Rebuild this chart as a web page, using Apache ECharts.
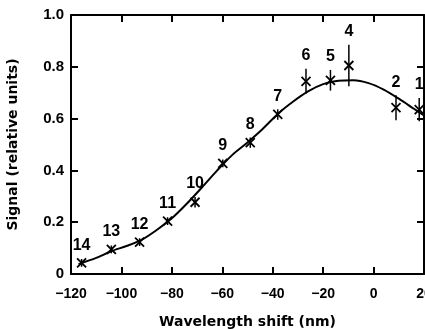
<!DOCTYPE html>
<html>
<head>
<meta charset="utf-8">
<script src="https://cdn.jsdelivr.net/npm/echarts@6/dist/echarts.min.js"></script>
<style>
  html, body { margin: 0; padding: 0; background: #fff; }
  #chart { width: 425px; height: 329px; }
</style>
</head>
<body>
<div id="chart"></div>
<script>
// measured points, numbered as in the figure
var pointLabels = ['14', '13', '12', '11', '10', '9', '8', '7', '6', '5', '4', '2', '1'];
var pointX = [-115.8, -104, -92.8, -81.7, -70.8, -59.8, -48.9, -38, -26.8, -17.1, -9.8, 8.9, 18.1];
var pointY = [0.043, 0.095, 0.123, 0.204, 0.277, 0.427, 0.507, 0.616, 0.744, 0.748, 0.805, 0.642, 0.635];
var pointErr = [0.015, 0.015, 0.015, 0.015, 0.02, 0.015, 0.02, 0.02, 0.048, 0.04, 0.08, 0.048, 0.045];

// fitted curve
var curveX = [-117, -110, -104, -98, -92, -86, -80, -74, -68, -62, -56, -50, -44, -38, -32, -26, -20, -14, -8, -2, 4, 10, 16, 20];
var curveY = [0.038, 0.062, 0.088, 0.108, 0.132, 0.17, 0.215, 0.272, 0.335, 0.40, 0.46, 0.508, 0.56, 0.618, 0.665, 0.705, 0.733, 0.746, 0.748, 0.737, 0.712, 0.677, 0.638, 0.612];

var chart = echarts.init(document.getElementById('chart'), null, { renderer: 'canvas' });

var curve = curveX.map(function (x, i) { return [x, curveY[i]]; });
var points = pointX.map(function (x, i) { return [x, pointY[i], pointErr[i]]; });

var tickFont = { color: '#000', fontWeight: 'bold', fontFamily: 'Liberation Sans' };
var axisLine = { onZero: false, lineStyle: { color: '#000', width: 2 } };
var axisTick = { inside: true, length: 7, lineStyle: { color: '#000', width: 2 } };

function renderPoint(params, api) {
    var i = params.dataIndex;
    var x = api.value(0), y = api.value(1), e = api.value(2);
    var p = api.coord([x, y]);
    var top = api.coord([x, y + e]);
    var bot = api.coord([x, y - e]);
    var s = 4.5;
    var st = { stroke: '#000', lineWidth: 1.8 };
    return {
        type: 'group',
        children: [
            { type: 'line', shape: { x1: p[0] - s, y1: p[1] - s, x2: p[0] + s, y2: p[1] + s }, style: st },
            { type: 'line', shape: { x1: p[0] - s, y1: p[1] + s, x2: p[0] + s, y2: p[1] - s }, style: st },
            { type: 'line', shape: { x1: p[0], y1: top[1], x2: p[0], y2: bot[1] }, style: { stroke: '#000', lineWidth: 1.5 } },
            {
                type: 'text',
                style: {
                    text: pointLabels[i],
                    x: p[0],
                    y: Math.min(top[1], p[1] - s) - 5,
                    align: 'center',
                    verticalAlign: 'bottom',
                    font: 'bold 16px "Liberation Sans"',
                    fill: '#000'
                }
            }
        ]
    };
}

var option = {
    animation: false,
    backgroundColor: '#fff',
    grid: { left: 71, top: 15, right: 1, bottom: 55, outerBoundsMode: 'none', containLabel: false },
    xAxis: [{
        type: 'value',
        min: -120, max: 20, interval: 20,
        name: 'Wavelength shift (nm)',
        nameLocation: 'middle',
        nameGap: 41,
        nameTextStyle: { color: '#000', fontWeight: 'bold', fontSize: 14, fontFamily: 'DejaVu Sans' },
        axisLine: axisLine,
        axisTick: axisTick,
        axisLabel: Object.assign({ fontSize: 14, margin: 13, formatter: function (v) { return v < 0 ? '\u2212' + (-v) : String(v); } }, tickFont),
        splitLine: { show: false }
    }, {
        type: 'value',
        position: 'top',
        min: -120, max: 20, interval: 20,
        axisLine: axisLine,
        axisTick: axisTick,
        axisLabel: { show: false },
        splitLine: { show: false }
    }],
    yAxis: [{
        type: 'value',
        min: 0, max: 1, interval: 0.2,
        name: 'Signal (relative units)',
        nameLocation: 'middle',
        nameGap: 51,
        nameTextStyle: { color: '#000', fontWeight: 'bold', fontSize: 14, fontFamily: 'DejaVu Sans' },
        axisLine: axisLine,
        axisTick: axisTick,
        axisLabel: Object.assign({ fontSize: 15, margin: 7, formatter: function (v) { return v === 0 ? '0' : v.toFixed(1); } }, tickFont),
        splitLine: { show: false }
    }, {
        type: 'value',
        position: 'right',
        min: 0, max: 1, interval: 0.2,
        axisLine: axisLine,
        axisTick: axisTick,
        axisLabel: { show: false },
        splitLine: { show: false }
    }],
    series: [{
        type: 'line',
        data: curve,
        smooth: 0.3,
        symbol: 'none',
        lineStyle: { color: '#000', width: 2 },
        z: 2
    }, {
        type: 'custom',
        data: points,
        renderItem: renderPoint,
        clip: false,
        z: 3
    }]
};

chart.setOption(option);
window.onresize = function () { chart.resize(); };
</script>
</body>
</html>
